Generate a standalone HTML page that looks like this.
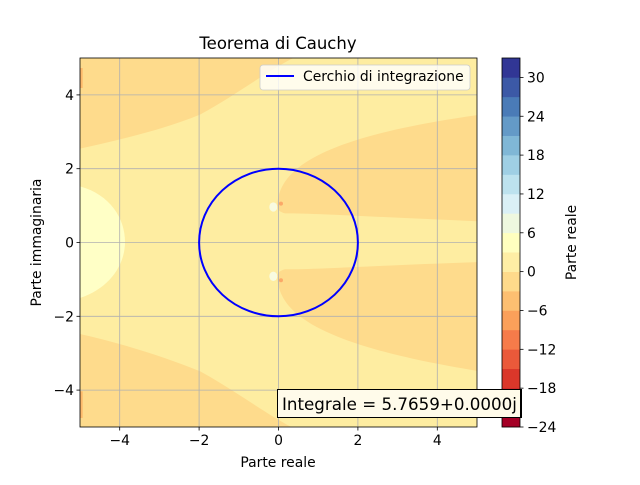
<!DOCTYPE html>
<html><head><meta charset="utf-8"><style>
body{margin:0;background:#fff;font-family:"Liberation Sans","DejaVu Sans",sans-serif}
svg text{font-family:"DejaVu Sans","Liberation Sans",sans-serif}
</style></head><body>
<svg id="c" width="640" height="480" viewBox="0 0 640 480" xmlns="http://www.w3.org/2000/svg">
<defs><clipPath id="pc"><rect x="80" y="58" width="397" height="369"/></clipPath></defs>
<rect width="640" height="480" fill="#fff"/>
<g id="plot" clip-path="url(#pc)">
 <rect x="80" y="58" width="397" height="369" fill="#feeda1"/>
 <g transform="translate(80,58) scale(0.3333)">
  <path fill="#fedb8c" d="M0,0 L640,0 C560,40 470,110 360,170 C250,215 120,245 0,272 Z"/>
  <path fill="#fedb8c" d="M0,1110 L640,1110 C560,1070 470,1000 360,940 C250,895 120,855 0,828 Z"/>
  <path fill="#fedb8c" d="M592,445 C595,340 700,240 1200,170 L1200,490 C900,478 720,466 615,466 C600,462 592,455 592,445 Z"/>
  <path fill="#fedb8c" d="M592,655 C595,760 700,860 1200,940 L1200,612 C900,622 720,634 615,634 C600,638 592,645 592,655 Z"/>
  <path fill="#ffffc6" d="M0,385 C90,410 135,480 135,552 C135,620 90,690 0,720 Z"/>
  <ellipse cx="580" cy="447" rx="12" ry="14" fill="#f8fbe0"/>
  <ellipse cx="580" cy="655" rx="12" ry="14" fill="#f8fbe0"/>
  <circle cx="603" cy="437" r="6" fill="#fba868"/>
  <circle cx="603" cy="667" r="6" fill="#fba868"/>
  <rect x="0" y="30" width="8" height="60" fill="#fdb96a"/>
  <rect x="0" y="1000" width="8" height="80" fill="#fdb96a"/>
 </g>
 <g id="grid"></g>
 <ellipse id="circ" fill="none" stroke="#0000ff" stroke-width="2"/>
</g>
<rect x="80" y="58" width="397" height="369" fill="none" stroke="#000" stroke-width="0.8"/>
<g id="ticks"></g>
<text x="278" y="49" font-size="16.5" text-anchor="middle">Teorema di Cauchy</text>
<text x="278" y="467" font-size="13.9" text-anchor="middle">Parte reale</text>
<text transform="translate(41,242.5) rotate(-90)" font-size="13.9" text-anchor="middle">Parte immaginaria</text>
<g>
 <rect x="260" y="65" width="210" height="25" rx="3" fill="#fff" fill-opacity="0.8" stroke="#ccc" stroke-width="0.8"/>
 <line x1="266" y1="76" x2="294" y2="76" stroke="#0000ff" stroke-width="2"/>
 <text x="303" y="81" font-size="13.9">Cerchio di integrazione</text>
</g>
<g id="cbar"></g>
<text transform="translate(576,242.5) rotate(-90)" font-size="13.9" text-anchor="middle">Parte reale</text>
<svg x="277" y="389" width="245" height="29">
 <rect x="0.5" y="0.5" width="280" height="28" fill="#fffbea" stroke="#000" stroke-width="1"/>
 <rect x="243" y="0" width="2" height="29" fill="#000"/>
 <text x="5" y="21" font-size="16.7">Integrale = 5.7659+0.0000j</text>
</svg>
</svg>
<script>
const xTicks=[-4,-2,0,2,4];
const yTicks=[-4,-2,0,2,4];
const cbarLevels=[-24,-21,-18,-15,-12,-9,-6,-3,0,3,6,9,12,15,18,21,24,27,30,33];
const cbarTicks=[-24,-18,-12,-6,0,6,12,18,24,30];
const circleCenter=[0,0];
const circleRadius=[2];
const NS="http://www.w3.org/2000/svg";
const X0=80,X1=477,Y0=427,Y1=58;
function sx(v){return X0+(v+5)/10*(X1-X0);}
function sy(v){return Y0-(v+5)/10*(Y0-Y1);}
function mk(t,a,p){const e=document.createElementNS(NS,t);for(const k in a)e.setAttribute(k,a[k]);p.appendChild(e);return e;}
const grid=document.getElementById('grid'),ticks=document.getElementById('ticks');
function lab(v){return v<0?'\u2212'+(-v):''+v;}
xTicks.forEach(v=>{
 const g=mk('line',{x1:sx(v),x2:sx(v),y1:Y1,y2:Y0,stroke:'#b0b0b0','stroke-width':0.8},grid);
 
 
 mk('line',{x1:sx(v),x2:sx(v),y1:Y0,y2:Y0+3.5,stroke:'#000','stroke-width':0.8},ticks);
 const t=mk('text',{x:sx(v),y:Y0+18,'font-size':13.9,'text-anchor':'middle'},ticks);t.textContent=lab(v);
 
 
});
yTicks.forEach(v=>{
 const g=mk('line',{x1:X0,x2:X1,y1:sy(v),y2:sy(v),stroke:'#b0b0b0','stroke-width':0.8},grid);
 
 
 mk('line',{x1:X0-3.5,x2:X0,y1:sy(v),y2:sy(v),stroke:'#000','stroke-width':0.8},ticks);
 const t=mk('text',{x:X0-6,y:sy(v)+5,'font-size':13.9,'text-anchor':'end'},ticks);t.textContent=lab(v);
 
 
});
const c=document.getElementById('circ');
c.setAttribute('cx',sx(circleCenter[0]));c.setAttribute('cy',sy(circleCenter[1]));
c.setAttribute('rx',sx(circleRadius[0])-sx(0));c.setAttribute('ry',sy(0)-sy(circleRadius[0]));
const stops=['#a50026','#d73027','#f46d43','#fdae61','#fee090','#ffffbf','#e0f3f8','#abd9e9','#74add1','#4575b4','#313695'];
function hx(h){return[1,3,5].map(i=>parseInt(h.substr(i,2),16));}
function cmap(t){const p=t*10,i=Math.min(9,Math.floor(p)),f=p-i,a=hx(stops[i]),b=hx(stops[i+1]);return'rgb('+a.map((v,k)=>Math.round(v+(b[k]-v)*f)).join(',')+')';}
const cb=document.getElementById('cbar'),CX=502,CW=18,lo=cbarLevels[0],hi=cbarLevels[cbarLevels.length-1];
function cy(v){return Y0-(v-lo)/(hi-lo)*(Y0-Y1);}
const nb=cbarLevels.length-1;
for(let i=0;i<nb;i++){
 const r=mk('rect',{x:CX,y:cy(cbarLevels[i+1]),width:CW,height:cy(cbarLevels[i])-cy(cbarLevels[i+1])+0.3,fill:cmap(i/(nb-1))},cb);
 
 
}
mk('rect',{x:CX,y:Y1,width:CW,height:Y0-Y1,fill:'none',stroke:'#000','stroke-width':0.8},cb);
cbarTicks.forEach(v=>{
 mk('line',{x1:CX+CW,x2:CX+CW+3.5,y1:cy(v),y2:cy(v),stroke:'#000','stroke-width':0.8},cb);
 const t=mk('text',{x:CX+CW+7,y:cy(v)+5,'font-size':13.9},cb);t.textContent=lab(v);
 
 
});
</script>
</body></html>
